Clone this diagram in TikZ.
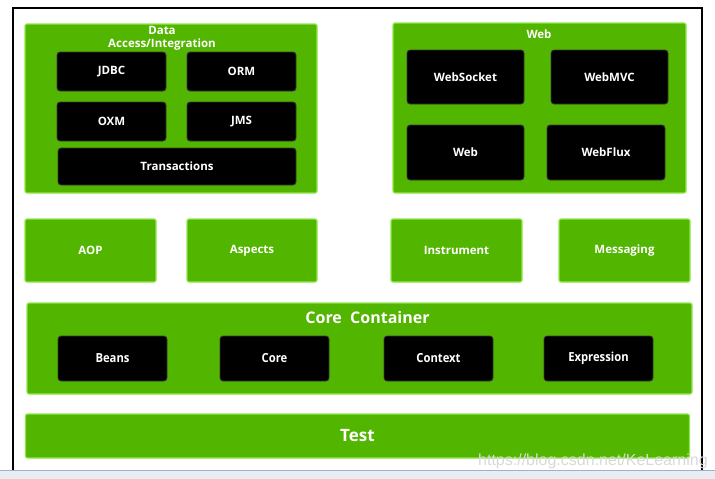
\documentclass[tikz,border=0pt]{standalone}
\usepackage{fontspec}
\usepackage{graphicx}
\setmainfont{Open Sans}
\newfontfamily\wmfont{Liberation Sans}
\definecolor{gfill}{HTML}{52B500}
\definecolor{gline}{HTML}{8FE84A}
\definecolor{kline}{HTML}{3A3A3A}
\definecolor{sbar}{HTML}{E9ECF1}
\definecolor{sbarline}{HTML}{9CB2CC}
\tikzset{
  gbox/.style={draw=gline, line width=1.2pt, fill=gfill, rounded corners=2pt, inner sep=0pt, text=white, font=\fontsize{11.5}{13}\selectfont\bfseries},
  kbox/.style={draw=kline, line width=0.8pt, fill=black, rounded corners=3pt, inner sep=0pt, text=white, font=\fontsize{11.5}{13}\selectfont\bfseries},
  cbox/.style={kbox, font=\fontsize{12.5}{14}\selectfont\bfseries},
  ttl/.style={text=white, inner sep=0pt, align=center, font=\fontsize{11.5}{13}\selectfont\bfseries},
}
\begin{document}
\begin{tikzpicture}[x=1pt,y=-1pt]
\useasboundingbox (0,0) rectangle (715,479);
\fill[white] (0,0) rectangle (715,479);
% frame
\draw[line width=2pt] (13,470) -- (13,8) -- (702,8) -- (702,470);
% scrollbar
\fill[sbar] (0,470) rectangle (715,479);
\draw[sbarline, line width=0.8pt] (0,470) -- (715,470);
% Data Access / Integration
\node[gbox, minimum width=292, minimum height=169] (da) at (171,108.5) {};
\node[ttl] (dat) at (162,38) {Data\\Access/Integration};
\node[kbox, minimum width=109, minimum height=39] (jdbc) at (111.5,71.5) {JDBC};
\node[kbox, minimum width=109, minimum height=39] (orm) at (241.5,71.5) {ORM};
\node[kbox, minimum width=109, minimum height=39] (oxm) at (111.5,121.5) {OXM};
\node[kbox, minimum width=109, minimum height=39] (jms) at (241.5,121.5) {JMS};
\node[kbox, minimum width=238, minimum height=37] (tx) at (177,166.5) {Transactions};
% Web
\node[gbox, minimum width=293, minimum height=170] (web) at (539.5,108) {};
\node[ttl] (webt) at (539,34) {Web};
\node[kbox, minimum width=117, minimum height=54] (ws) at (465.5,77) {WebSocket};
\node[kbox, minimum width=117, minimum height=54] (mvc) at (609.5,77) {WebMVC};
\node[kbox, minimum width=117, minimum height=55] (wb) at (465.5,152.5) {Web};
\node[kbox, minimum width=118, minimum height=55] (flux) at (606,152.5) {WebFlux};
% middle row
\node[gbox, minimum width=131, minimum height=63] (aop) at (90.5,250.5) {AOP};
\node[gbox, minimum width=130, minimum height=63] (asp) at (252,250.5) {Aspects};
\node[gbox, minimum width=131, minimum height=63] (ins) at (456.5,250.5) {Instrument};
\node[gbox, minimum width=131, minimum height=63] (msg) at (624.5,250.5) {Messaging};
% Core Container
\node[gbox, minimum width=665, minimum height=91] (cc) at (359.5,348.5) {};
\node[ttl, font=\fontsize{16}{18}\selectfont\bfseries] (cct) at (367.5,317) {Core\ \ Container};
\node[cbox, minimum width=109, minimum height=45] (beans) at (112.5,358.5) {\scalebox{0.9}[1]{Beans}};
\node[cbox, minimum width=109, minimum height=45] (core) at (274.5,358.5) {\scalebox{0.9}[1]{Core}};
\node[cbox, minimum width=109, minimum height=45] (ctx) at (438.5,358.5) {\scalebox{0.9}[1]{Context}};
\node[cbox, minimum width=109, minimum height=45] (expr) at (598.5,358.5) {\scalebox{0.9}[1]{Expression}};
% Test
\node[gbox, minimum width=664, minimum height=44, font=\fontsize{17}{20}\selectfont\bfseries] (test) at (357.5,436) {Test};
% watermark
\node[inner sep=0pt, anchor=base west, text=gray!30, font=\wmfont\fontsize{16}{18}\selectfont] (wm) at (478,465) {https://blog.csdn.net/KeLearning};
\end{tikzpicture}
\end{document}
